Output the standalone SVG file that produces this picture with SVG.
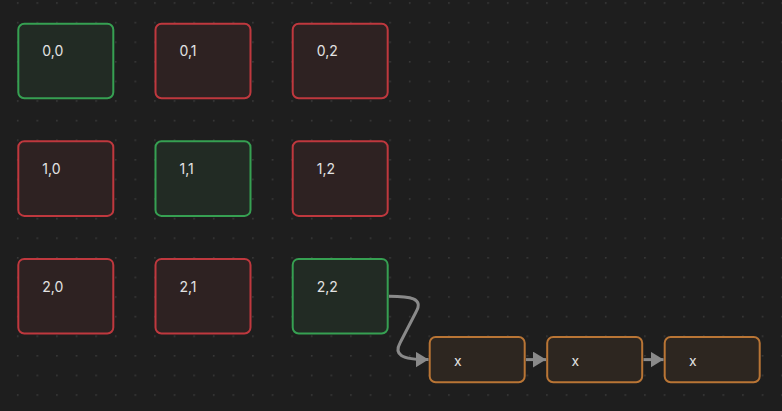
<svg xmlns="http://www.w3.org/2000/svg" width="782" height="411" viewBox="0 0 782 411">
  <defs>
    <pattern id="dots" x="16.9" y="2.2" width="19.6" height="19.6" patternUnits="userSpaceOnUse">
      <rect x="0" y="0" width="1.6" height="1.6" fill="#393939"/>
    </pattern>
    <marker id="arrow" viewBox="0 0 13 16" refX="13" refY="8" markerWidth="13" markerHeight="16" markerUnits="userSpaceOnUse" orient="auto">
      <path d="M0,0 L13,8 L0,16 Z" fill="#8a8a8a"/>
    </marker>
    <style>
      .n rect { stroke-width: 2; }
      .ok rect { fill: #222b24; stroke: #36a052; }
      .bad rect { fill: #2e2222; stroke: #bf383e; }
      .q rect { fill: #2d2620; stroke: #b97535; }
      text { font-family: Inter, "Noto Sans", "Liberation Sans", sans-serif; font-size: 14px; fill: #e2e2e2; }
      .edge { fill: none; stroke: #8a8a8a; stroke-width: 3; marker-end: url(#arrow); }
    </style>
  </defs>
  <rect width="782" height="411" fill="#1e1e1e"/>
  <rect width="782" height="411" fill="url(#dots)"/>

  <g id="node-0-0" class="n ok"><rect x="18.3" y="23.7" width="95" height="74.6" rx="6"/><text x="42.3" y="56.3">0,0</text></g>
  <g id="node-0-1" class="n bad"><rect x="155.5" y="23.7" width="95" height="74.6" rx="6"/><text x="179.5" y="56.3">0,1</text></g>
  <g id="node-0-2" class="n bad"><rect x="292.7" y="23.7" width="95" height="74.6" rx="6"/><text x="316.7" y="56.3">0,2</text></g>

  <g id="node-1-0" class="n bad"><rect x="18.3" y="141.3" width="95" height="74.6" rx="6"/><text x="42.3" y="173.9">1,0</text></g>
  <g id="node-1-1" class="n ok"><rect x="155.5" y="141.3" width="95" height="74.6" rx="6"/><text x="179.5" y="173.9">1,1</text></g>
  <g id="node-1-2" class="n bad"><rect x="292.7" y="141.3" width="95" height="74.6" rx="6"/><text x="316.7" y="173.9">1,2</text></g>

  <g id="node-2-0" class="n bad"><rect x="18.3" y="258.9" width="95" height="74.6" rx="6"/><text x="42.3" y="291.5">2,0</text></g>
  <g id="node-2-1" class="n bad"><rect x="155.5" y="258.9" width="95" height="74.6" rx="6"/><text x="179.5" y="291.5">2,1</text></g>
  <g id="node-2-2" class="n ok"><rect x="292.7" y="258.9" width="95" height="74.6" rx="6"/><text x="316.7" y="291.5">2,2</text></g>

  <g id="node-x1" class="n q"><rect x="429.7" y="337" width="95" height="45.3" rx="6"/><text x="454" y="365.7">x</text></g>
  <g id="node-x2" class="n q"><rect x="547.2" y="337" width="95" height="45.3" rx="6"/><text x="571.5" y="365.7">x</text></g>
  <g id="node-x3" class="n q"><rect x="664.7" y="337" width="95" height="45.3" rx="6"/><text x="689" y="365.7">x</text></g>

  <g id="edges">
    <path class="edge" d="M389,296.2 C410,296.2 424,298 416,312 L400,343 C394,354 400,359.6 428.5,359.6"/>
    <path class="edge" d="M526,359.6 L546,359.6"/>
    <path class="edge" d="M643.5,359.6 L663.5,359.6"/>
  </g>
</svg>
